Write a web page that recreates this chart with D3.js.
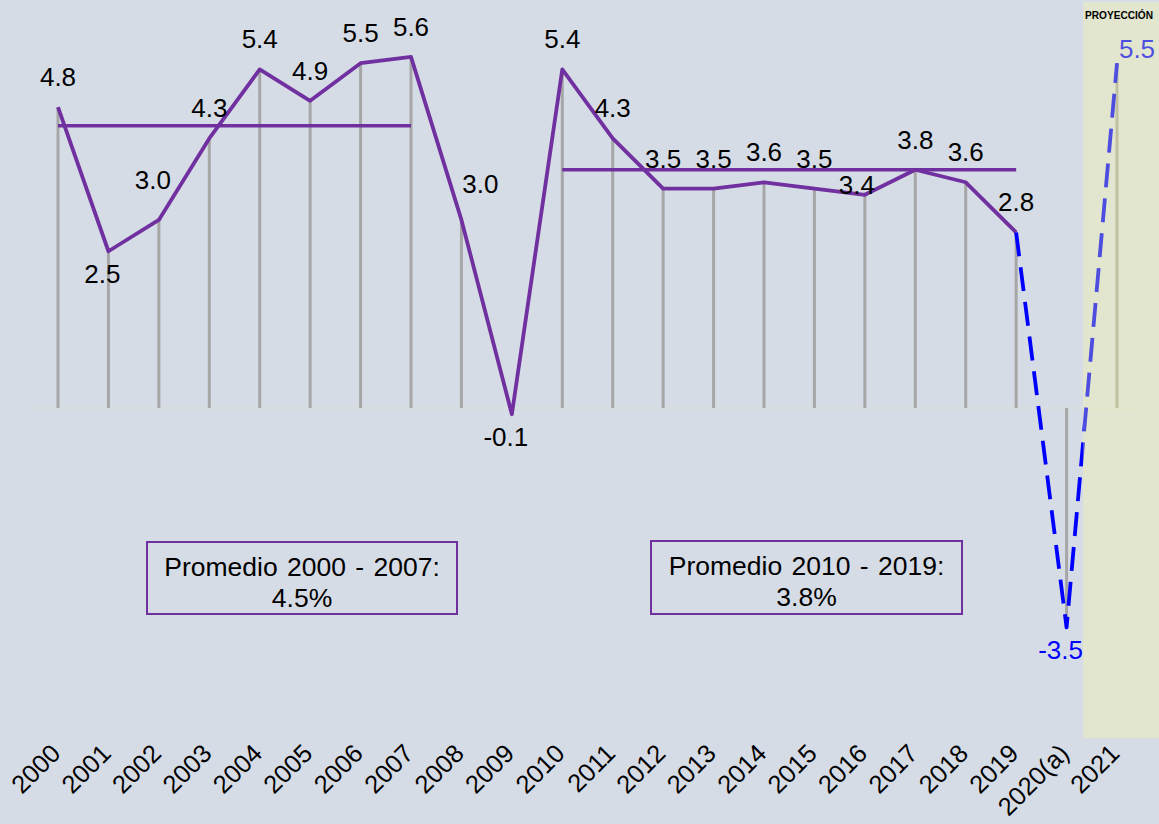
<!DOCTYPE html>
<html>
<head>
<meta charset="utf-8">
<script src="https://cdn.jsdelivr.net/npm/d3@7"></script>
<style>
  html, body { margin: 0; padding: 0; background: #d6dce5; }
  svg { display: block; }
  text { font-family: "Liberation Sans", Arial, sans-serif; }
</style>
</head>
<body>
<svg id="chart" width="1159" height="824"></svg>
<script>
// ---- data ----
const categories = ["2000","2001","2002","2003","2004","2005","2006","2007","2008","2009",
  "2010","2011","2012","2013","2014","2015","2016","2017","2018","2019","2020(a)","2021"];
const growth = [4.8, 2.5, 3.0, 4.3, 5.4, 4.9, 5.5, 5.6, 3.0, -0.1,
  5.4, 4.3, 3.5, 3.5, 3.6, 3.5, 3.4, 3.8, 3.6, 2.8, -3.5, 5.5];
const labelPlacement = ["above","below","aboveLeft","above","above","above","above","above","aboveRight","below",
  "above","above","above","above","above","above","left","above","above","above","below","right"];
const averages = [
  { from: "2000", to: "2007", value: 4.5, text: ["Promedio 2000 - 2007:", "4.5%"] },
  { from: "2010", to: "2019", value: 3.8, text: ["Promedio 2010 - 2019:", "3.8%"] }
];
const projectionLabel = "PROYECCIÓN";
const lastActualIndex = 19;

// ---- layout ----
const svg = d3.select("#chart");
const W = 1159, H = 824;
const x = d3.scalePoint().domain(categories).range([58, 1117]);
const y = d3.scaleLinear().domain([-4, 6]).range([658.8, 31.8]);
const fmt = d3.formatLocale({ decimal: ".", thousands: ",", grouping: [3], currency: ["", ""], minus: "-" }).format(".1f");

svg.append("rect").attr("width", W).attr("height", H).attr("fill", "#d6dce5");

// zero axis line
svg.append("line").attr("x1", 33).attr("x2", 1142).attr("y1", y(0)).attr("y2", y(0))
  .attr("stroke", "#e2e0d6").attr("stroke-width", 1);

// drop lines
svg.append("g").selectAll("line").data(categories).join("line")
  .attr("x1", d => x(d)).attr("x2", d => x(d))
  .attr("y1", y(0)).attr("y2", (d, i) => y(growth[i]))
  .attr("stroke", "#a6a6a6").attr("stroke-width", 3);

// average lines
svg.append("g").selectAll("line").data(averages).join("line")
  .attr("x1", d => x(d.from)).attr("x2", d => x(d.to))
  .attr("y1", d => y(d.value)).attr("y2", d => y(d.value))
  .attr("stroke", "#7030a0").attr("stroke-width", 3.5);

// main line (actual)
const pts = categories.map((c, i) => [x(c), y(growth[i])]);
const line = d3.line();
svg.append("path").attr("d", line(pts.slice(0, lastActualIndex + 1)))
  .attr("fill", "none").attr("stroke", "#7030a0").attr("stroke-width", 3.8)
  .attr("stroke-linejoin", "round");
// dashed projection
svg.append("path").attr("d", line(pts.slice(lastActualIndex)))
  .attr("fill", "none").attr("stroke", "#0000ff").attr("stroke-width", 3.8)
  .attr("stroke-dasharray", "24,11").attr("stroke-linejoin", "round");

// data labels
const offs = {
  above: [0, -21], below: [-6, 32], aboveLeft: [-6, -31], aboveRight: [19, -27],
  left: [-8, -1], right: [20, -5]
};
svg.append("g").selectAll("text").data(categories).join("text")
  .attr("x", (d, i) => x(d) + offs[labelPlacement[i]][0])
  .attr("y", (d, i) => y(growth[i]) + offs[labelPlacement[i]][1])
  .attr("text-anchor", "middle")
  .attr("font-size", 26)
  .attr("fill", (d, i) => i > lastActualIndex ? "#0000ff" : "#000")
  .text((d, i) => fmt(growth[i]));

// average boxes
const boxes = [{ x: 147, y: 542, w: 310, h: 72 }, { x: 651, y: 541, w: 311, h: 73 }];
averages.forEach((a, k) => {
  const b = boxes[k];
  const g = svg.append("g");
  g.append("rect").attr("x", b.x).attr("y", b.y).attr("width", b.w).attr("height", b.h)
    .attr("fill", "none").attr("stroke", "#7030a0").attr("stroke-width", 2);
  a.text.forEach((t, j) => {
    g.append("text").attr("x", b.x + b.w / 2).attr("y", b.y + 34 + j * 31)
      .attr("text-anchor", "middle").attr("font-size", 26.5)
      .attr("word-spacing", 2)
      .text(t);
  });
});

// x axis labels
svg.append("g").selectAll("text").data(categories).join("text")
  .attr("transform", d => `translate(${x(d) + 4},755) rotate(-45)`)
  .attr("text-anchor", "end").attr("font-size", 25.5).attr("fill", "#000")
  .text(d => d);

// projection overlay
svg.append("rect").attr("x", 1083).attr("y", 2).attr("width", 80).attr("height", 736)
  .attr("fill", "#ffff99").attr("opacity", 0.3);
svg.append("text").attr("x", 1085).attr("y", 19).attr("font-size", 11)
  .attr("font-weight", "bold").attr("fill", "#000")
  .attr("textLength", 68).attr("lengthAdjust", "spacingAndGlyphs")
  .text(projectionLabel);
</script>
</body>
</html>
